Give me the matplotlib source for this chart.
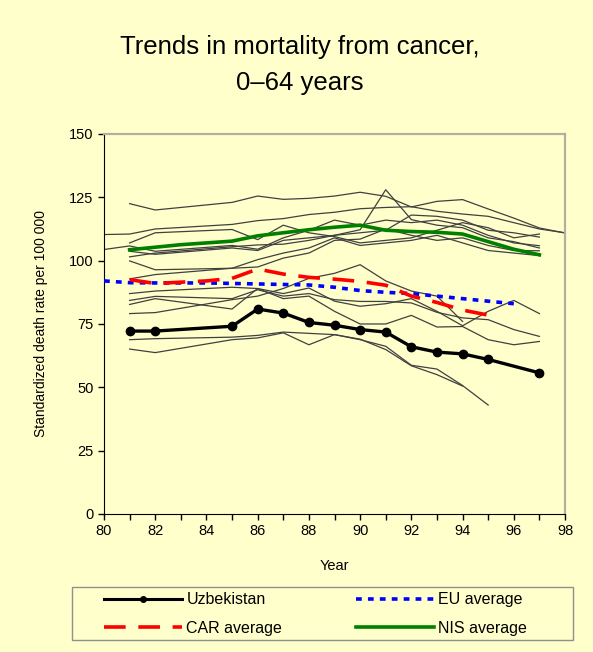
import numpy as np
import matplotlib
matplotlib.use("Agg")
import matplotlib.pyplot as plt
from matplotlib.lines import Line2D
from matplotlib.patches import Rectangle

plt.rcParams["font.family"] = ["Liberation Sans", "DejaVu Sans"]

nan = np.nan
years = [80, 81, 82, 85, 86, 87, 88, 89, 90, 91, 92, 93, 94, 95, 96, 97, 98]

# country lines (thin), one value per entry of years
countries = {
    "c01": [nan, 122.5, 120.0, 123.0, 125.5, 124.2, 124.6, 125.5, 127.0, 125.4, 121.2, 123.4, 124.1, 120.4, 116.8, 112.9, 110.9],
    "c02": [110.3, 110.5, 112.5, 114.3, 115.8, 116.6, 118.2, 119.1, 120.5, 121.0, 121.3, 119.5, 118.4, 117.5, 115.0, 112.5, 111.0],
    "c03": [104.4, 105.8, 103.7, 106.0, 104.5, 109.0, 112.0, 116.0, 114.0, 116.0, 115.0, 116.0, 114.0, 110.0, 107.0, 105.9, nan],
    "c04": [nan, 107.0, 111.0, 112.3, 108.3, 114.0, 111.0, 109.5, 107.0, 108.0, 109.0, 112.0, 115.0, 113.0, 109.0, 110.5, nan],
    "c05": [nan, 101.5, 103.0, 105.5, 106.2, 106.5, 108.0, 110.0, 111.0, 112.0, 118.0, 117.5, 116.0, 112.0, 111.0, 109.3, nan],
    "c06": [nan, 99.9, 96.4, 97.0, 97.5, 101.0, 103.0, 108.0, 108.5, 112.5, 110.0, 108.0, 109.0, 106.0, 104.0, 103.9, nan],
    "c07": [nan, 103.7, 102.5, 105.0, 104.0, 108.0, 109.0, 110.0, 112.2, 128.0, 116.2, 114.0, 113.0, 109.0, 107.5, 105.0, nan],
    "c08": [nan, 92.8, 94.5, 97.0, 100.4, 103.0, 105.0, 109.0, 106.0, 107.0, 108.0, 110.0, 107.0, 104.0, 103.0, 102.0, nan],
    "c09": [nan, 87.0, 88.0, 89.5, 89.0, 87.0, 89.2, 84.0, 82.0, 83.0, 85.0, 80.0, 74.3, 80.0, 84.3, 79.1, nan],
    "c10": [nan, 84.3, 85.9, 85.0, 88.5, 86.0, 87.0, 84.6, 83.9, 83.9, 83.3, 79.6, 77.4, 76.7, 72.8, 70.1, nan],
    "c11": [nan, 82.7, 85.0, 80.9, 89.0, 85.0, 86.0, 80.0, 75.0, 75.0, 78.4, 73.8, 74.0, 68.8, 66.8, 68.1, nan],
    "c12": [nan, 79.1, 79.5, 84.6, 86.0, 89.0, 93.0, 95.0, 98.4, 92.0, 88.0, 86.0, 76.0, nan, nan, nan, nan],
    "c13": [nan, 68.8, 69.2, 69.8, 70.5, 71.8, 71.3, 70.8, 68.8, 66.2, 58.7, 57.2, 50.7, 43.0, nan, nan, nan],
    "c14": [nan, 65.1, 63.7, 68.8, 69.5, 71.5, 66.8, 70.8, 69.0, 64.9, 58.5, 55.0, 50.5, nan, nan, nan, nan],
}

uzb_years = [81, 82, 85, 86, 87, 88, 89, 90, 91, 92, 93, 94, 95, 97]
uzb = [72.2, 72.2, 74.1, 80.9, 79.3, 75.6, 74.5, 72.8, 71.8, 66.0, 63.9, 63.2, 61.0, 55.7]

eu_years = [80, 81, 82, 83, 84, 85, 86, 87, 88, 89, 90, 91, 92, 93, 94, 95, 96]
eu = [92.0, 91.3, 91.2, 91.2, 91.2, 91.0, 90.8, 90.6, 90.4, 89.5, 88.2, 87.5, 87.0, 86.0, 85.0, 84.0, 83.0]

car_years = [81, 82, 83, 84, 85, 86, 87, 88, 89, 90, 91, 92, 93, 94, 95]
car = [92.5, 91.0, 91.5, 92.0, 93.0, 96.7, 94.7, 93.4, 92.7, 91.8, 90.3, 86.0, 83.5, 80.5, 78.5]

nis_years = [81, 82, 83, 84, 85, 86, 87, 88, 89, 90, 91, 92, 93, 94, 95, 96, 97]
nis = [104.3, 105.3, 106.3, 107.0, 107.7, 109.8, 111.0, 112.2, 113.2, 114.0, 112.0, 111.5, 111.2, 110.5, 107.5, 104.5, 102.3]

bg = "#FFFFCC"

fig = plt.figure(figsize=(5.93, 6.52), dpi=100, facecolor=bg)
ax = fig.add_axes([0.1754, 0.2117, 0.7774, 0.5828], facecolor=bg)

for name, vals in countries.items():
    v = np.array(vals, dtype=float)
    ok = ~np.isnan(v)
    ax.plot(np.array(years)[ok], v[ok], color="#404040", lw=0.9, zorder=2)

ax.plot(eu_years, eu, color="#0000FF", lw=2.6, dashes=(1.6, 1.7), zorder=3)
ax.plot(car_years, car, color="#FF0000", lw=2.6, dashes=(6, 3.5), zorder=3)
ax.plot(nis_years, nis, color="#008000", lw=2.6, zorder=3)
ax.plot(uzb_years, uzb, color="black", lw=2.4, marker="o", ms=6, zorder=4)

ax.set_xlim(80, 98)
ax.set_ylim(0, 150)
ax.set_xticks(range(80, 99))
ax.set_xticklabels([str(y) if y % 2 == 0 else "" for y in range(80, 99)])
ax.set_yticks(range(0, 151, 25))
ax.tick_params(labelsize=10.5, length=4, width=1, direction="out")
for s in ("top", "right"):
    ax.spines[s].set_color("#B0B0A0")
    ax.spines[s].set_linewidth(1.6)
for s in ("left", "bottom"):
    ax.spines[s].set_color("black")

ax.set_xlabel("Year", fontsize=10.5, labelpad=15)
ax.set_ylabel("Standardized death rate per 100 000", fontsize=10, labelpad=15)

fig.text(0.505, 0.900, "Trends in mortality from cancer,\n0\u201364 years", ha="center", va="center",
         fontsize=18.5, linespacing=1.6)

# legend box drawn by hand so the entries can sit where the reference has them
fig.patches.append(Rectangle((72 / 593, 1 - 640 / 652), 501 / 593, 53 / 652,
                             transform=fig.transFigure, facecolor=bg,
                             edgecolor="#909090", lw=1.0, zorder=0))
handles = [
    Line2D([], [], color="black", lw=2.2, marker="o", ms=4),
    Line2D([], [], color="#FF0000", lw=2.6, dashes=(6, 3.5)),
    Line2D([], [], color="#0000FF", lw=2.6, dashes=(1.6, 1.7)),
    Line2D([], [], color="#008000", lw=2.6),
]
labels = ["Uzbekistan", "CAR average", "EU average", "NIS average"]
leg = fig.legend(handles, labels, ncol=2, loc="center left",
                 bbox_to_anchor=(104 / 593, 1 - 614 / 652),
                 fontsize=11.5, handlelength=4.9, handletextpad=0.25, columnspacing=4.6,
                 frameon=False, borderpad=0, borderaxespad=0, labelspacing=0.83)

fig.savefig("out.png", dpi=100, facecolor=bg)
